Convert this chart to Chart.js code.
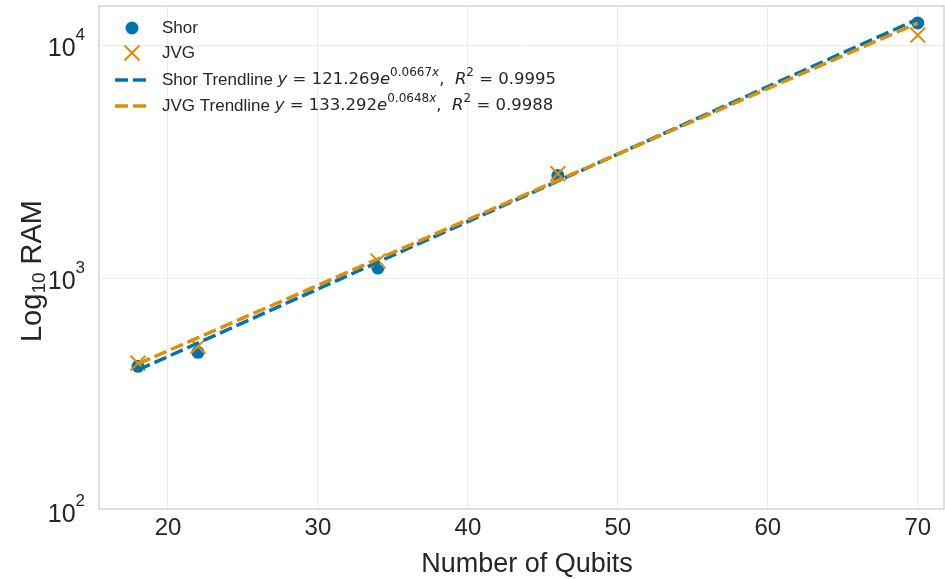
<!DOCTYPE html>
<html>
<head>
<meta charset="utf-8">
<script src="https://cdn.jsdelivr.net/npm/chart.js@4.4.1/dist/chart.umd.min.js"></script>
<style>
  html, body { margin: 0; padding: 0; background: #fff; }
  #wrap { width: 945px; height: 579px; }
</style>
</head>
<body>
<div id="wrap"><canvas id="myChart" width="945" height="579"></canvas></div>
<script>
// qubit counts and measured RAM for both algorithms
var qubits = [18, 22, 34, 46, 70];
var shorRam = [418, 480, 1104, 2754, 12440];
var jvgRam = [431, 509, 1183, 2805, 11040];

// fitted trendlines (straight on a log axis, so two end points are enough)
var trendQubits = [18, 70];
var shorTrend = [403, 12926];
var jvgTrend = [428, 12438];

var xTicks = [20, 30, 40, 50, 60, 70];
var yTicks = [100, 1000, 10000];

var blue = '#0173b2';
var orange = '#de8f05';
var textColor = '#262626';
var mathFont = '"DejaVu Sans"';
var textFont = '"Liberation Sans", Arial, sans-serif';

function pts(xs, ys) {
    return xs.map(function (x, i) { return { x: x, y: ys[i] }; });
}

// draws a row of text pieces, each with its own font and vertical shift
function drawRuns(ctx, x, y, runs) {
    runs.forEach(function (r) {
        ctx.font = r.font;
        ctx.fillText(r.t, x, y + (r.dy || 0));
        x += ctx.measureText(r.t).width;
    });
    return x;
}

function mathRuns(size, a, b, r2) {
    var up = mathFont + ', sans-serif';
    var it = 'italic ' + size + 'px ' + up;
    var rm = size + 'px ' + up;
    var sup = Math.round(size * 0.7);
    return [
        { t: 'y', font: it },
        { t: ' = ' + a, font: rm },
        { t: 'e', font: it },
        { t: b, font: sup + 'px ' + up, dy: -size * 0.42 },
        { t: 'x', font: 'italic ' + sup + 'px ' + up, dy: -size * 0.42 },
        { t: ',  ', font: rm },
        { t: 'R', font: it },
        { t: '2', font: sup + 'px ' + up, dy: -size * 0.42 },
        { t: ' = ' + r2, font: rm }
    ];
}

var decorations = {
    id: 'decorations',
    afterDraw: function (chart) {
        var ctx = chart.ctx;
        var area = chart.chartArea;
        var xs = chart.scales.x;
        var ys = chart.scales.y;
        ctx.save();

        // frame round the plot
        ctx.strokeStyle = '#cccccc';
        ctx.lineWidth = 1.25;
        ctx.strokeRect(area.left, area.top, area.right - area.left, area.bottom - area.top);

        ctx.fillStyle = textColor;
        ctx.textBaseline = 'middle';

        // x tick labels
        ctx.textAlign = 'center';
        ctx.font = '24px ' + textFont;
        xTicks.forEach(function (v) {
            ctx.fillText(String(v), xs.getPixelForValue(v), area.bottom + 19);
        });

        // y tick labels as powers of ten
        ctx.textAlign = 'left';
        yTicks.forEach(function (v) {
            var py = ys.getPixelForValue(v);
            var exp = String(Math.round(Math.log10(v)));
            ctx.font = '25px ' + textFont;
            var w = ctx.measureText('10').width;
            ctx.font = '17px ' + textFont;
            var we = ctx.measureText(exp).width;
            var x0 = area.left - 14 - w - we;
            drawRuns(ctx, x0, py + 4, [
                { t: '10', font: '25px ' + textFont },
                { t: exp, font: '17px ' + textFont, dy: -14 }
            ]);
        });

        // axis titles
        ctx.textAlign = 'center';
        ctx.font = '27px ' + textFont;
        ctx.fillText('Number of Qubits', 527, 565);

        ctx.save();
        ctx.translate(33, 271);
        ctx.rotate(-Math.PI / 2);
        ctx.textAlign = 'left';
        var title = [
            { t: 'Log', font: '29px ' + textFont },
            { t: '10', font: '19px ' + textFont, dy: 7 },
            { t: ' RAM', font: '29px ' + textFont }
        ];
        var tw = 0;
        title.forEach(function (r) { ctx.font = r.font; tw += ctx.measureText(r.t).width; });
        drawRuns(ctx, -tw / 2, 0, title);
        ctx.restore();

        // legend
        ctx.textAlign = 'left';
        var lx = 132, tx = 162;
        var rows = [28, 53, 80, 106];

        ctx.fillStyle = blue;
        ctx.beginPath();
        ctx.arc(lx, rows[0], 6.5, 0, Math.PI * 2);
        ctx.fill();

        ctx.strokeStyle = orange;
        ctx.lineWidth = 2;
        ctx.beginPath();
        ctx.moveTo(lx - 7.5, rows[1] - 7.5); ctx.lineTo(lx + 7.5, rows[1] + 7.5);
        ctx.moveTo(lx + 7.5, rows[1] - 7.5); ctx.lineTo(lx - 7.5, rows[1] + 7.5);
        ctx.stroke();

        [[rows[2], blue], [rows[3], orange]].forEach(function (d) {
            ctx.strokeStyle = d[1];
            ctx.lineWidth = 3.5;
            ctx.setLineDash([13, 5]);
            ctx.beginPath();
            ctx.moveTo(115, d[0]);
            ctx.lineTo(149, d[0]);
            ctx.stroke();
        });
        ctx.setLineDash([]);

        ctx.fillStyle = textColor;
        ctx.font = '17px ' + textFont;
        ctx.fillText('Shor', tx, rows[0]);
        ctx.fillText('JVG', tx, rows[1]);
        var end = drawRuns(ctx, tx, rows[2], [{ t: 'Shor Trendline ', font: '17px ' + textFont }]);
        drawRuns(ctx, end, rows[2], mathRuns(16.5, '121.269', '0.0667', '0.9995'));
        end = drawRuns(ctx, tx, rows[3], [{ t: 'JVG Trendline ', font: '17px ' + textFont }]);
        drawRuns(ctx, end, rows[3], mathRuns(16.5, '133.292', '0.0648', '0.9988'));

        ctx.restore();
    }
};

var ctx = document.getElementById('myChart').getContext('2d');
var myChart = new Chart(ctx, {
    type: 'scatter',
    data: {
        datasets: [{
            label: 'Shor',
            data: pts(qubits, shorRam),
            backgroundColor: blue,
            borderColor: blue,
            pointRadius: 6.5,
            pointBorderWidth: 0,
            order: 3
        }, {
            label: 'JVG',
            data: pts(qubits, jvgRam),
            pointStyle: 'crossRot',
            borderColor: orange,
            backgroundColor: orange,
            pointRadius: 10.5,
            pointBorderWidth: 2,
            order: 2
        }, {
            type: 'line',
            label: 'Shor Trendline',
            data: pts(trendQubits, shorTrend),
            borderColor: blue,
            borderWidth: 3.5,
            borderDash: [13, 5],
            pointRadius: 0,
            fill: false,
            order: 1
        }, {
            type: 'line',
            label: 'JVG Trendline',
            data: pts(trendQubits, jvgTrend),
            borderColor: orange,
            borderWidth: 3.5,
            borderDash: [13, 5],
            pointRadius: 0,
            fill: false,
            order: 0
        }]
    },
    options: {
        responsive: false,
        animation: false,
        layout: {
            autoPadding: false,
            padding: { left: 99, top: 6, right: 1, bottom: 70 }
        },
        plugins: {
            legend: { display: false },
            tooltip: { enabled: false }
        },
        scales: {
            x: {
                type: 'linear',
                min: 15.4,
                max: 71.75,
                ticks: { display: false, stepSize: 10, includeBounds: false },
                border: { display: false },
                grid: { color: '#ebebeb', lineWidth: 1, drawTicks: false }
            },
            y: {
                type: 'logarithmic',
                min: 102,
                max: 14720,
                ticks: { display: false, includeBounds: false },
                border: { display: false },
                grid: {
                    drawTicks: false,
                    lineWidth: 1,
                    color: function (c) {
                        var v = c.tick && c.tick.value;
                        return (v === 1000 || v === 10000) ? '#ebebeb' : 'rgba(0,0,0,0)';
                    }
                }
            }
        }
    },
    plugins: [decorations]
});
</script>
</body>
</html>
